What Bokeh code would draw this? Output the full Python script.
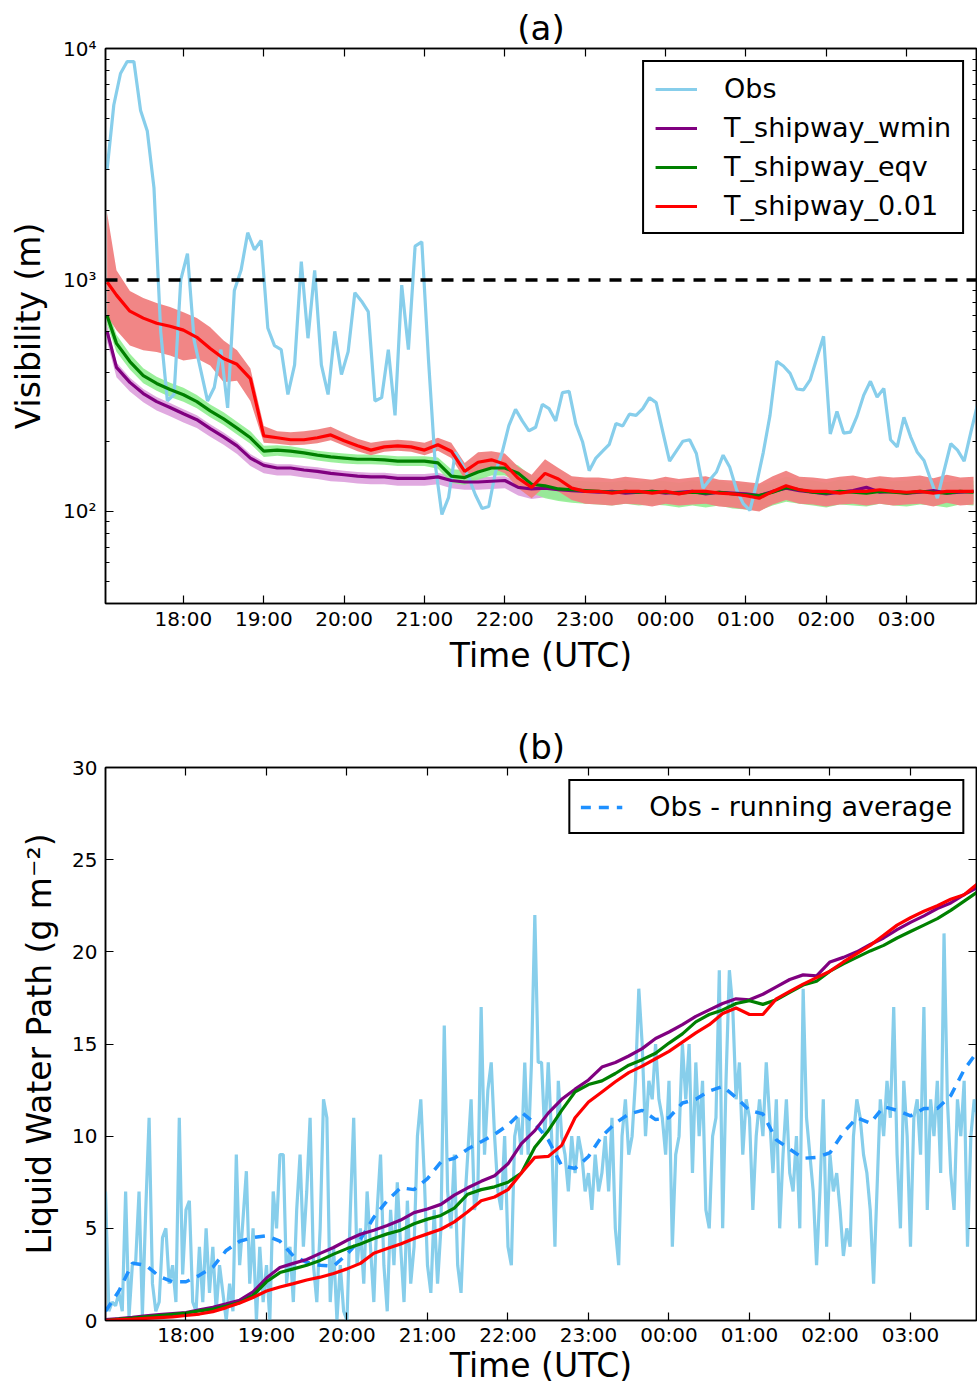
import numpy as np
from bokeh.plotting import figure
from bokeh.models import (Range1d, LinearAxis, LogAxis, FixedTicker, Legend,
                          LegendItem, Span)
from bokeh.layouts import column
from bokeh.embed import file_html
from bokeh.resources import INLINE

FONT = "DejaVu Sans"

# ---------------- shared axis data ----------------
tick_hours = [1, 2, 3, 4, 5, 6, 7, 8, 9, 10]          # hours after 17:00
tick_labels = ["18:00", "19:00", "20:00", "21:00", "22:00",
               "23:00", "00:00", "01:00", "02:00", "03:00"]

# ---------------- panel (a): visibility ----------------
# observed visibility (m), 5-min samples starting 17:03
obs_vis_start_min = 3
obs_vis_step_min = 5
obs_vis = [3000, 5700, 7800, 8780, 8780, 5400, 4400, 2500, 600, 300,
           320, 1000, 1300, 548, 406, 300, 343, 500, 280, 900,
           1100, 1600, 1350, 1480, 620, 520, 500, 320, 430, 1200,
           560, 1100, 430, 320, 600, 390, 490, 880, 810, 730,
           300, 310, 500, 260, 950, 500, 1400, 1460, 450, 160,
           97, 115, 180, 160, 140, 118, 103, 105, 148, 180,
           235, 276, 246, 223, 231, 290, 278, 246, 326, 330,
           239, 200, 150, 170, 182, 195, 240, 234, 263, 260,
           278, 310, 295, 220, 165, 182, 201, 204, 178, 126,
           137, 148, 175, 155, 124, 108, 101, 132, 180, 260,
           445, 425, 395, 338, 335, 370, 460, 571, 216, 270,
           218, 220, 258, 318, 365, 312, 340, 204, 190, 255,
           210, 180, 166, 137, 114, 150, 196, 184, 165, 220, 290]

# model time axis (minutes after 17:00)
model_a_min = [3] + [10 * k for k in range(1, 66)]

wmin_vis = [600, 419, 361, 323, 298, 281, 264, 249, 228, 210,
            192, 170, 158, 154, 154, 151, 149, 146, 144, 142,
            141, 141, 139, 139, 139, 141, 136, 134, 134, 135,
            136, 127, 125, 126, 124, 123, 122, 121, 122, 120,
            121, 122, 120, 121, 122, 119, 121, 120, 119, 117,
            122, 126, 123, 121, 119, 121, 123, 127, 121, 122,
            120, 121, 123, 120, 121, 122]
wmin_lo = [540, 380, 330, 296, 273, 258, 242, 229, 210, 194,
           177, 157, 146, 143, 143, 140, 138, 135, 134, 132,
           131, 131, 129, 129, 129, 131, 126, 124, 124, 125,
           126, 117, 113, 115, 112, 111, 110, 109, 110, 108,
           109, 110, 108, 109, 110, 107, 109, 108, 107, 105,
           110, 114, 111, 109, 107, 109, 111, 115, 109, 110,
           108, 109, 111, 108, 109, 110]
wmin_hi = [640, 440, 378, 338, 312, 294, 276, 260, 238, 219,
           200, 177, 164, 160, 160, 157, 155, 152, 150, 148,
           147, 147, 145, 145, 145, 147, 142, 140, 140, 141,
           142, 134, 132, 133, 132, 131, 130, 129, 131, 128,
           129, 131, 128, 129, 131, 127, 130, 128, 127, 125,
           131, 135, 131, 129, 127, 129, 132, 136, 129, 130,
           128, 129, 132, 128, 129, 130]

eqv_vis = [700, 532, 444, 386, 357, 336, 319, 298, 272, 251,
           229, 208, 182, 184, 182, 179, 175, 172, 170, 168,
           168, 167, 165, 165, 165, 162, 142, 140, 148, 154,
           154, 146, 131, 129, 125, 124, 123, 122, 121, 122,
           121, 122, 121, 120, 121, 120, 121, 119, 118, 117,
           121, 127, 124, 121, 120, 122, 121, 120, 122, 121,
           120, 122, 121, 120, 122, 121]
eqv_lo = [640, 490, 410, 358, 332, 312, 298, 279, 255, 236,
          215, 196, 172, 174, 172, 170, 166, 163, 161, 160,
          160, 159, 157, 157, 157, 153, 133, 130, 137, 143,
          143, 134, 120, 114, 111, 109, 108, 107, 106, 108,
          106, 107, 106, 104, 106, 104, 106, 103, 102, 101,
          106, 110, 108, 106, 104, 107, 106, 105, 108, 106,
          105, 107, 106, 104, 107, 106]
eqv_hi = [760, 580, 480, 415, 382, 360, 342, 318, 290, 268,
          244, 222, 192, 193, 191, 187, 183, 180, 178, 176,
          176, 175, 173, 173, 173, 171, 152, 151, 160, 165,
          166, 158, 142, 139, 137, 136, 135, 134, 134, 136,
          134, 137, 135, 133, 136, 134, 136, 131, 132, 130,
          135, 141, 138, 136, 133, 137, 135, 134, 138, 135,
          136, 137, 135, 134, 137, 136]

p01_vis = [980, 860, 733, 684, 650, 631, 607, 565, 506, 458,
           432, 375, 212, 208, 204, 204, 208, 214, 202, 192,
           184, 190, 192, 190, 184, 194, 182, 149, 163, 167,
           160, 139, 127, 146, 138, 126, 122, 122, 120, 122,
           122, 120, 122, 119, 122, 122, 120, 119, 117, 114,
           122, 129, 124, 122, 122, 120, 122, 122, 124, 122,
           121, 122, 120, 122, 122, 122]
p01_lo = [700, 607, 521, 497, 488, 472, 449, 458, 427, 361,
          367, 300, 198, 196, 193, 194, 197, 203, 192, 182,
          175, 181, 183, 181, 175, 183, 170, 138, 150, 154,
          146, 126, 114, 128, 122, 112, 108, 107, 106, 108,
          107, 105, 108, 106, 107, 108, 105, 104, 102, 100,
          107, 112, 108, 107, 105, 107, 108, 106, 108, 106,
          107, 108, 105, 109, 106, 107]
p01_hi = [1950, 1100, 896, 835, 795, 764, 726, 684, 625, 548,
          497, 414, 234, 222, 220, 222, 226, 232, 218, 206,
          198, 202, 204, 202, 198, 208, 198, 162, 180, 182,
          178, 156, 144, 168, 154, 142, 140, 140, 138, 141,
          139, 137, 141, 138, 140, 142, 137, 136, 134, 132,
          142, 150, 141, 140, 138, 141, 143, 139, 142, 140,
          141, 143, 139, 144, 140, 141]

vis_threshold = 1000
y_ticks_a = [100, 1000, 10000]
y_labels_a = ["10\u00b2", "10\u00b3", "10\u2074"]

# ---------------- panel (b): liquid water path ----------------
obs_lwp_step_min = 2.5
obs_lwp = [7.0, 0.5, 1.0, 0.8, 1.5, 0.5, 7.0, 0.2, 3.0, 3.2,
           7.0, 0.3, 6.0, 11.0, 2.0, 0.5, 1.0, 4.5, 5.0, 2.0,
           3.0, 1.0, 11.0, 2.5, 6.0, 6.5, 1.0, 0.5, 4.0, 1.0,
           5.0, 1.5, 4.0, 0.5, 3.0, 1.5, 0.0, 2.0, 0.5, 9.0,
           3.0, 5.5, 8.1, 2.0, 5.0, 0.0, 4.0, 1.0, 3.0, 0.0,
           7.0, 5.0, 9.0, 9.0, 2.0, 4.0, 1.0, 6.0, 9.0, 4.0,
           7.0, 11.0, 3.0, 1.0, 5.0, 12.0, 11.0, 1.0, 4.0, 0.0,
           3.0, 0.5, 0.0, 6.0, 11.0, 3.0, 5.0, 2.0, 7.0, 4.0,
           1.0, 6.0, 9.0, 3.0, 0.5, 6.0, 3.0, 7.5, 4.0,
           1.0, 6.5, 2.0, 4.0, 10.0, 12.0, 8.0, 3.0, 1.5, 6.0,
           2.0, 5.0, 16.0, 7.0, 5.0, 9.0, 3.0, 1.5, 6.0, 9.0,
           12.0, 6.0, 7.0, 17.0, 9.0, 12.5, 14.0, 10.0, 7.0, 6.0,
           10.0, 4.0, 3.0, 10.0, 11.0, 9.0, 14.0, 9.0, 14.0, 22.0,
           14.0, 14.0, 10.0, 14.0, 10.0, 4.0, 13.0, 10.0, 9.0, 7.0,
           10.0, 8.0, 10.0, 9.0, 7.0, 8.0, 6.0, 9.0, 7.0, 8.0,
           10.0, 7.0, 11.0, 5.0, 3.0, 10.0, 12.0, 9.0, 10.0, 13.0,
           18.0, 15.0, 10.0, 13.0, 12.0, 15.0, 12.0, 11.0, 9.0, 13.0,
           4.0, 9.0, 10.0, 15.0, 12.0, 15.0,
           8.0, 14.0, 10.0, 13.0, 6.0, 5.0, 10.0, 11.0, 19.0, 5.0,
           13.0, 19.0, 17.0, 12.0, 14.0, 9.0, 12.0, 11.0, 6.0, 10.0,
           12.0, 10.0, 14.0, 11.0, 8.0, 12.0, 5.0, 9.0, 12.0, 8.0,
           7.0, 10.0, 5.0, 18.0, 11.0, 9.0, 7.0, 3.0, 7.0, 12.0,
           4.0, 9.0, 7.0, 8.0, 6.0, 3.5, 5.0, 4.0, 10.0, 12.0,
           11.0, 9.0, 8.0, 6.0, 2.0, 7.0, 12.0, 10.0, 13.0, 11.0,
           17.0, 9.0, 5.0, 13.0, 10.0, 4.0, 11.0, 12.0, 9.0, 17.0,
           6.0, 12.0, 10.0, 13.0, 8.0, 21.0, 12.0, 8.0, 6.0, 12.0,
           10.0, 13.0, 4.0, 10.0, 12.0, 11.0]

model_b_min = [10 * k for k in range(0, 66)]

obs_lwp_runavg = [0.5, 1.6, 3.1, 3.0, 2.4, 2.1, 2.1, 2.45, 2.9, 3.8,
                  4.3, 4.5, 4.6, 4.3, 3.5, 3.15, 3.0, 2.95, 3.6, 4.4,
                  5.6, 6.5, 7.2, 7.1, 7.7, 8.6, 8.8, 9.3, 9.7, 10.1,
                  10.6, 11.3, 10.7, 9.8, 8.4, 8.25, 8.9, 10.0, 10.7, 11.2,
                  11.4, 10.9, 11.0, 11.8, 12.0, 12.45, 12.7, 12.1, 11.4, 11.2,
                  9.8, 9.3, 8.8, 8.85, 9.1, 10.2, 11.0, 10.7, 11.6, 11.4,
                  11.1, 11.5, 11.5, 12.2, 13.6, 14.6]

wmin_lwp = [0.05, 0.1, 0.17, 0.25, 0.32, 0.38, 0.43, 0.58, 0.72, 0.9,
            1.1, 1.55, 2.3, 2.88, 3.1, 3.31, 3.64, 3.96, 4.35, 4.68,
            4.9, 5.15, 5.45, 5.85, 6.05, 6.3, 6.8, 7.2, 7.55, 7.85,
            8.5, 9.6, 10.3, 11.25, 12.0, 12.55, 13.05, 13.75, 14.0, 14.35,
            14.75, 15.3, 15.65, 16.05, 16.5, 16.85, 17.2, 17.45, 17.4, 17.7,
            18.1, 18.5, 18.75, 18.7, 19.45, 19.7, 20.0, 20.4, 20.75, 21.2,
            21.6, 21.95, 22.35, 22.65, 23.1, 23.5]
eqv_lwp = [0.0, 0.08, 0.13, 0.2, 0.27, 0.33, 0.4, 0.52, 0.62, 0.78,
           0.97, 1.36, 2.1, 2.6, 2.8, 3.0, 3.26, 3.6, 3.9, 4.15,
           4.45, 4.7, 4.9, 5.25, 5.5, 5.7, 6.1, 6.85, 7.1, 7.25,
           7.5, 8.0, 9.4, 10.3, 11.4, 12.4, 12.8, 13.0, 13.4, 13.85,
           14.15, 14.5, 15.05, 15.55, 16.2, 16.6, 16.85, 17.2, 17.35, 17.15,
           17.4, 17.8, 18.2, 18.4, 18.95, 19.35, 19.7, 20.05, 20.35, 20.75,
           21.1, 21.45, 21.8, 22.25, 22.75, 23.25]
p01_lwp = [0.0, 0.05, 0.08, 0.12, 0.16, 0.2, 0.27, 0.35, 0.48, 0.7,
           0.95, 1.25, 1.6, 1.82, 2.0, 2.2, 2.35, 2.55, 2.8, 3.1,
           3.65, 3.9, 4.15, 4.45, 4.7, 4.95, 5.35, 5.9, 6.5, 6.7,
           7.1, 8.0, 8.85, 8.9, 9.5, 11.0, 11.85, 12.4, 12.95, 13.45,
           13.8, 14.2, 14.6, 15.1, 15.6, 16.05, 16.65, 16.95, 16.6, 16.6,
           17.45, 17.85, 18.25, 18.6, 18.95, 19.45, 19.9, 20.35, 20.9, 21.45,
           21.85, 22.2, 22.5, 22.85, 23.1, 23.7]

y_ticks_b = [0, 5, 10, 15, 20, 25, 30]

# ---------------- colours ----------------
C_OBS = "#87CEEB"
C_WMIN = "#800080"
C_EQV = "#008000"
C_P01 = "#FF0000"
C_WMIN_BAND = "#DDA0DD"
C_EQV_BAND = "#90EE90"
C_P01_BAND = "#F08080"
C_RUNAVG = "#1E90FF"

# ---------------- derived time coordinates (hours after 17:00) ----------------
t_obs_vis = [(obs_vis_start_min + obs_vis_step_min * i) / 60.0 for i in range(len(obs_vis))]
t_model_a = [m / 60.0 for m in model_a_min]
t_obs_lwp = [obs_lwp_step_min * i / 60.0 for i in range(len(obs_lwp))]
t_model_b = [m / 60.0 for m in model_b_min]

x_overrides = {h: lab for h, lab in zip(tick_hours, tick_labels)}


def style_axis(ax, ticks=None, label_standoff=4, title_standoff=2):
    ax.axis_line_color = "black"
    ax.axis_line_width = 1.5
    ax.major_tick_line_color = "black"
    ax.minor_tick_line_color = "black"
    ax.major_tick_line_width = 1.2
    ax.minor_tick_line_width = 1.2
    ax.major_tick_in = 8
    ax.major_tick_out = 0
    ax.minor_tick_in = 4
    ax.minor_tick_out = 0
    ax.major_label_text_font = FONT
    ax.major_label_text_color = "black"
    ax.major_label_text_font_size = "20px"
    ax.axis_label_text_font = FONT
    ax.axis_label_text_font_style = "normal"
    ax.axis_label_text_color = "black"
    ax.axis_label_text_font_size = "33px"
    ax.major_label_standoff = label_standoff
    ax.axis_label_standoff = title_standoff
    if ticks is not None:
        # tick marks only, no labels (mirror axis)
        ax.major_label_overrides = {t: "" for t in ticks}
        ax.major_label_standoff = 0


def base_fig(height, y_axis_type, x_range, y_range, title, top_border, bottom_border):
    p = figure(width=977, height=height, output_backend="svg",
               toolbar_location=None, y_axis_type=y_axis_type,
               x_range=x_range, y_range=y_range,
               min_border_left=105, min_border_right=1,
               min_border_top=top_border, min_border_bottom=bottom_border)
    p.title.text = title
    p.title.align = "center"
    p.title.text_font = FONT
    p.title.text_font_size = "34px"
    p.title.text_font_style = "normal"
    p.title.text_color = "black"
    p.title.standoff = 2
    p.xgrid.visible = False
    p.ygrid.visible = False
    p.outline_line_color = "black"
    p.outline_line_width = 1.5
    p.background_fill_color = "white"
    p.border_fill_color = "white"
    return p


def style_legend(leg, padding):
    leg.border_line_color = "black"
    leg.border_line_width = 2
    leg.border_line_alpha = 1.0
    leg.background_fill_color = "white"
    leg.background_fill_alpha = 1.0
    leg.label_text_font = FONT
    leg.label_text_font_size = "27px"
    leg.label_text_color = "black"
    leg.glyph_width = 42
    leg.glyph_height = 30
    leg.label_standoff = 27
    leg.spacing = 8
    leg.padding = padding
    leg.margin = 12


# ======================= panel (a) =======================
pa = base_fig(678, "log", Range1d(0.03, 10.87), Range1d(40, 10000), "(a)", 48, 75)

minor_log = [m * 10 ** e for e in (1, 2, 3) for m in range(2, 10)]

xa = pa.xaxis[0]
xa.ticker = FixedTicker(ticks=tick_hours, minor_ticks=[])
xa.major_label_overrides = x_overrides
xa.axis_label = "Time (UTC)"
style_axis(xa, label_standoff=3, title_standoff=2)
ya = pa.yaxis[0]
ya.ticker = FixedTicker(ticks=y_ticks_a, minor_ticks=minor_log)
ya.major_label_overrides = {v: l for v, l in zip(y_ticks_a, y_labels_a)}
ya.axis_label = "Visibility (m)"
style_axis(ya, label_standoff=9, title_standoff=12)

top_a = LinearAxis(ticker=FixedTicker(ticks=tick_hours, minor_ticks=[]))
style_axis(top_a, ticks=tick_hours)
pa.add_layout(top_a, "above")
right_a = LogAxis(ticker=FixedTicker(ticks=y_ticks_a, minor_ticks=minor_log))
style_axis(right_a, ticks=y_ticks_a)
pa.add_layout(right_a, "right")

pa.varea(x=t_model_a, y1=wmin_lo, y2=wmin_hi, fill_color=C_WMIN_BAND, fill_alpha=0.9)
pa.varea(x=t_model_a, y1=eqv_lo, y2=eqv_hi, fill_color=C_EQV_BAND, fill_alpha=0.9)
pa.varea(x=t_model_a, y1=p01_lo, y2=p01_hi, fill_color=C_P01_BAND, fill_alpha=0.95)

r_obs = pa.line(t_obs_vis, obs_vis, line_color=C_OBS, line_width=3.2)
r_wmin = pa.line(t_model_a, wmin_vis, line_color=C_WMIN, line_width=3.2)
r_eqv = pa.line(t_model_a, eqv_vis, line_color=C_EQV, line_width=3.2)
r_p01 = pa.line(t_model_a, p01_vis, line_color=C_P01, line_width=3.2)

pa.add_layout(Span(location=vis_threshold, dimension="width", line_color="black",
                   line_width=3.5, line_dash="12 9"))

leg_a = Legend(items=[LegendItem(label="Obs", renderers=[r_obs]),
                      LegendItem(label="T_shipway_wmin", renderers=[r_wmin]),
                      LegendItem(label="T_shipway_eqv", renderers=[r_eqv]),
                      LegendItem(label="T_shipway_0.01", renderers=[r_p01])],
               location="top_right")
style_legend(leg_a, 11)
pa.add_layout(leg_a)

# ======================= panel (b) =======================
pb = base_fig(712, "linear", Range1d(0, 10.82), Range1d(0, 30), "(b)", 89, 70)

xb = pb.xaxis[0]
xb.ticker = FixedTicker(ticks=tick_hours, minor_ticks=[])
xb.major_label_overrides = x_overrides
xb.axis_label = "Time (UTC)"
style_axis(xb, label_standoff=2, title_standoff=-4)
yb = pb.yaxis[0]
yb.ticker = FixedTicker(ticks=y_ticks_b, minor_ticks=[])
yb.axis_label = "Liquid Water Path (g m\u207b\u00b2)"
style_axis(yb, label_standoff=8, title_standoff=10)

top_b = LinearAxis(ticker=FixedTicker(ticks=tick_hours, minor_ticks=[]))
style_axis(top_b, ticks=tick_hours)
pb.add_layout(top_b, "above")
right_b = LinearAxis(ticker=FixedTicker(ticks=y_ticks_b, minor_ticks=[]))
style_axis(right_b, ticks=y_ticks_b)
pb.add_layout(right_b, "right")

pb.line(t_obs_lwp, obs_lwp, line_color=C_OBS, line_width=3.2)
r_avg = pb.line(t_model_b, obs_lwp_runavg, line_color=C_RUNAVG, line_width=3.5,
                line_dash="10 8")
pb.line(t_model_b, wmin_lwp, line_color=C_WMIN, line_width=3.2)
pb.line(t_model_b, eqv_lwp, line_color=C_EQV, line_width=3.2)
pb.line(t_model_b, p01_lwp, line_color=C_P01, line_width=3.2)

leg_b = Legend(items=[LegendItem(label="Obs - running average", renderers=[r_avg])],
               location="top_right")
style_legend(leg_b, 10)
pb.add_layout(leg_b)

layout = column(pa, pb, spacing=0)
open("out.html", "w").write(file_html(layout, INLINE))
